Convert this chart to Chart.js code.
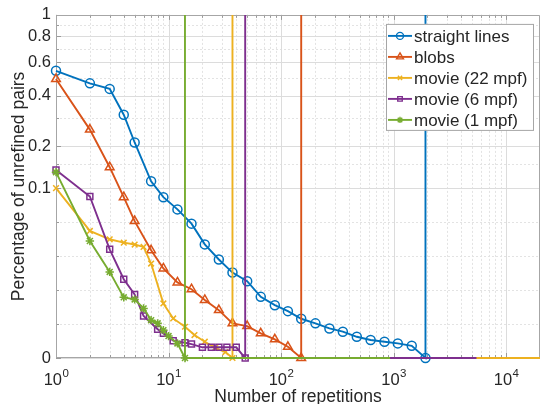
<!DOCTYPE html>
<html>
<head>
<meta charset="utf-8">
<script src="https://cdn.jsdelivr.net/npm/chart.js@4.4.1/dist/chart.umd.min.js"></script>
<style>
  html, body { margin: 0; padding: 0; background: #fff; }
</style>
</head>
<body>
<canvas id="grafico" width="540" height="404"></canvas>
<script>
/* Datos */

const seriesLabels = ["straight lines", "blobs", "movie (22 mpf)", "movie (6 mpf)", "movie (1 mpf)"];

// straight lines
const xStraight = [1, 2, 3, 4, 5, 7, 9, 12, 16, 21, 28, 37, 50, 66, 88, 115, 151, 202, 269, 354, 471, 625, 830, 1090, 1450, 1920];
const yStraight = [0.544, 0.468, 0.437, 0.313, 0.211, 0.113, 0.0947, 0.0875, 0.0791, 0.0669, 0.058, 0.0503, 0.0452, 0.036, 0.0311, 0.0276, 0.0231, 0.0204, 0.0174, 0.0155, 0.0125, 0.0106, 0.0096, 0.0086, 0.0072, 0];

// blobs
const xBlobs = [1, 2, 3, 4, 5, 7, 9, 12, 16, 21, 28, 37, 50, 66, 88, 115, 151];
const yBlobs = [0.493, 0.2545, 0.1433, 0.0947, 0.0806, 0.0634, 0.0527, 0.0445, 0.0405, 0.0342, 0.0282, 0.0204, 0.0188, 0.0145, 0.011, 0.0066, 0];

// movie (22 mpf)
const xMovie22 = [1, 2, 3, 4, 5, 6, 7, 9, 11, 14, 17, 21, 26, 32, 37];
const yMovie22 = [0.1, 0.0748, 0.0699, 0.0679, 0.0668, 0.0654, 0.0556, 0.0321, 0.0233, 0.0184, 0.0135, 0.0096, 0.006, 0.0035, 0];

// movie (6 mpf)
const xMovie6 = [1, 2, 3, 4, 5, 6, 8, 9, 11, 14, 16, 20, 24, 28, 33, 40, 48];
const yMovie6 = [0.137, 0.0951, 0.064, 0.0464, 0.0374, 0.0247, 0.0169, 0.0145, 0.0102, 0.009, 0.0082, 0.0063, 0.0063, 0.0063, 0.0063, 0.0063, 0];

// movie (1 mpf)
const xMovie1 = [1, 2, 3, 4, 5, 6, 7, 8, 9, 10, 12, 14];
const yMovie1 = [0.132, 0.0689, 0.0507, 0.0357, 0.0345, 0.0292, 0.0223, 0.0204, 0.0164, 0.0129, 0.0086, 0];

// hasta dónde sigue cada serie sobre y = 0
const tailEnds = [20000, 20000, 20000, 5450, 930];

const yTicks = [0, 0.1, 0.2, 0.4, 0.6, 0.8, 1];
const yMinorTicks = [0.02, 0.04, 0.06, 0.08, 0.15, 0.3, 0.5, 0.7, 0.9];
const xDecades = [1, 10, 100, 1000, 10000];

const colores = ["#0072BD", "#D95319", "#EDB120", "#7E2F8E", "#77AC30"];
const marcadores = ["circle", "triangle", "crossRot", "rect", "star"];
const radios = [4.5, 5, 4, 4.2, 4.2];

const FUENTE = "'Liberation Sans', Arial, Helvetica, sans-serif";
const GRIS_TEXTO = "#262626";

/* Escala vertical: lineal hasta 0.1, raíz cuarta por encima */
const Y_CORTE = 0.1;
const POS_CORTE = 0.495;

class EscalaMixta extends Chart.LinearScale {
  static id = "mixta";
  aDecimal(v) {
    if (v <= Y_CORTE) return (v / Y_CORTE) * POS_CORTE;
    const lo = Math.pow(Y_CORTE, 0.25);
    return POS_CORTE + (1 - POS_CORTE) * (Math.pow(v, 0.25) - lo) / (1 - lo);
  }
  deDecimal(d) {
    if (d <= POS_CORTE) return (d / POS_CORTE) * Y_CORTE;
    const lo = Math.pow(Y_CORTE, 0.25);
    const u = (d - POS_CORTE) / (1 - POS_CORTE);
    return Math.pow(lo + u * (1 - lo), 4);
  }
  getPixelForValue(v) {
    return this.getPixelForDecimal(this.aDecimal(v));
  }
  getValueForPixel(p) {
    return this.deDecimal(this.getDecimalForPixel(p));
  }
}
Chart.register(EscalaMixta);

// Armando los puntos: marcadores + línea vertical + cola en cero
function armarSerie(xs, ys, fin) {
  let puntos = xs.map((x, i) => ({ x: x, y: ys[i] }));
  let ultimo = xs[xs.length - 1];
  puntos.push({ x: ultimo, y: 1 });
  puntos.push({ x: ultimo, y: 0 });
  puntos.push({ x: fin, y: 0 });
  return puntos;
}

const todasX = [xStraight, xBlobs, xMovie22, xMovie6, xMovie1];
const todasY = [yStraight, yBlobs, yMovie22, yMovie6, yMovie1];

const datasets = seriesLabels.map((label, i) => {
  const nMarcas = todasX[i].length;
  return {
    label: label,
    data: armarSerie(todasX[i], todasY[i], tailEnds[i]),
    borderColor: colores[i],
    backgroundColor: colores[i],
    borderWidth: 1.9,
    pointStyle: marcadores[i],
    pointRadius: (c) => (c.dataIndex < nMarcas ? radios[i] : 0),
    pointBorderWidth: 1.5,
    pointBorderColor: colores[i],
    pointBackgroundColor: "rgba(0,0,0,0)",
    tension: 0,
    clip: false,
    order: seriesLabels.length - i
  };
});

function lineaH(ctx, x1, x2, y) {
  ctx.beginPath();
  ctx.moveTo(x1, y);
  ctx.lineTo(x2, y);
  ctx.stroke();
}
function lineaV(ctx, x, y1, y2) {
  ctx.beginPath();
  ctx.moveTo(x, y1);
  ctx.lineTo(x, y2);
  ctx.stroke();
}

function menoresX() {
  let lista = [];
  xDecades.forEach((d) => {
    for (let k = 2; k <= 9; k++) {
      if (k * d <= 20000) lista.push(k * d);
    }
  });
  return lista;
}

// Grilla y caja al estilo MATLAB
const ejesMatlab = {
  id: "ejesMatlab",
  beforeDatasetsDraw(chart) {
    const { ctx, chartArea: a, scales } = chart;
    const x = scales.x, y = scales.y;
    const px = (v) => Math.round(x.getPixelForValue(v)) + 0.5;
    const py = (v) => Math.round(y.getPixelForValue(v)) + 0.5;
    ctx.save();
    ctx.lineWidth = 1;

    // grilla menor punteada
    ctx.strokeStyle = "#e3e3e3";
    ctx.setLineDash([2, 2]);
    menoresX().forEach((v) => lineaV(ctx, px(v), a.top, a.bottom));
    yMinorTicks.forEach((v) => lineaH(ctx, a.left, a.right, py(v)));

    // grilla mayor
    ctx.setLineDash([]);
    ctx.strokeStyle = "#dcdcdc";
    xDecades.forEach((v) => lineaV(ctx, px(v), a.top, a.bottom));
    yTicks.forEach((v) => lineaH(ctx, a.left, a.right, py(v)));

    // marcas hacia adentro
    ctx.strokeStyle = "#9a9a9a";
    xDecades.forEach((v) => {
      lineaV(ctx, px(v), a.bottom, a.bottom - 5);
      lineaV(ctx, px(v), a.top, a.top + 5);
    });
    menoresX().forEach((v) => {
      lineaV(ctx, px(v), a.bottom, a.bottom - 3);
      lineaV(ctx, px(v), a.top, a.top + 3);
    });
    yTicks.forEach((v) => lineaH(ctx, a.left, a.left + 5, py(v)));
    yMinorTicks.forEach((v) => lineaH(ctx, a.left, a.left + 3, py(v)));

    // caja
    ctx.strokeStyle = "#a6a6a6";
    const l = Math.round(a.left) + 0.5, t = Math.round(a.top) + 0.5;
    const b = Math.round(a.bottom) - 0.5, r = Math.round(a.right) - 0.5;
    lineaH(ctx, l, r, t);
    lineaH(ctx, l, r, b);
    lineaV(ctx, l, t, b);
    lineaV(ctx, r, t, b);
    ctx.restore();
  },
  afterDatasetsDraw(chart) {
    const { ctx, chartArea: a, scales } = chart;
    const x = scales.x;
    ctx.save();

    // etiquetas 10^n del eje x
    ctx.fillStyle = GRIS_TEXTO;
    ctx.textBaseline = "alphabetic";
    xDecades.forEach((v, n) => {
      const base = "10", sup = String(n);
      ctx.font = "16.5px " + FUENTE;
      const w1 = ctx.measureText(base).width;
      ctx.font = "11.5px " + FUENTE;
      const w2 = ctx.measureText(sup).width;
      const x0 = x.getPixelForValue(v) - (w1 + w2) / 2;
      ctx.textAlign = "left";
      ctx.font = "16.5px " + FUENTE;
      ctx.fillText(base, x0, a.bottom + 27);
      ctx.font = "11.5px " + FUENTE;
      ctx.fillText(sup, x0 + w1 + 0.5, a.bottom + 19);
    });

    // leyenda
    const lx = a.right - 154, ly = a.top + 9, lw = 147, lh = 106;
    ctx.fillStyle = "#ffffff";
    ctx.fillRect(lx, ly, lw, lh);
    ctx.strokeStyle = "#a6a6a6";
    ctx.lineWidth = 1;
    ctx.strokeRect(lx + 0.5, ly + 0.5, lw, lh);
    chart.data.datasets.forEach((ds, i) => {
      const cy = ly + 12 + i * 21;
      ctx.strokeStyle = ds.borderColor;
      ctx.lineWidth = 1.9;
      lineaH(ctx, lx + 2, lx + 26, cy);
      ctx.lineWidth = 1.4;
      ctx.fillStyle = "rgba(0,0,0,0)";
      Chart.helpers.drawPoint(ctx, { pointStyle: ds.pointStyle, radius: radios[i] - 1, rotation: 0, borderWidth: 1.4 }, lx + 14, cy);
      ctx.fillStyle = GRIS_TEXTO;
      ctx.font = "17px " + FUENTE;
      ctx.textAlign = "left";
      ctx.textBaseline = "middle";
      ctx.fillText(ds.label, lx + 28, cy + 1);
    });
    ctx.restore();
  }
};

new Chart(document.getElementById("grafico"), {
  type: "line",
  data: { datasets: datasets },
  options: {
    responsive: false,
    animation: false,
    events: [],
    devicePixelRatio: 1,
    layout: { autoPadding: false, padding: { top: 13, right: 0, left: 0, bottom: 0 } },
    plugins: { legend: { display: false }, tooltip: { enabled: false } },
    scales: {
      x: {
        type: "logarithmic",
        min: 1,
        max: 20000,
        grid: { display: false, drawTicks: false },
        border: { display: false },
        ticks: { display: false },
        title: {
          display: true,
          text: "Number of repetitions",
          color: GRIS_TEXTO,
          font: { family: FUENTE, size: 17.5, lineHeight: 0.8 },
          padding: 0
        },
        afterFit: (s) => { s.height = 46; }
      },
      y: {
        type: "mixta",
        min: 0,
        max: 1,
        grid: { display: false, drawTicks: false },
        border: { display: false },
        afterBuildTicks: (s) => { s.ticks = yTicks.map((v) => ({ value: v })); },
        ticks: {
          autoSkip: false,
          padding: 5,
          color: GRIS_TEXTO,
          font: { family: FUENTE, size: 16.5 },
          callback: (v) => String(v)
        },
        title: {
          display: true,
          text: "Percentage of unrefined pairs",
          color: GRIS_TEXTO,
          font: { family: FUENTE, size: 17.5, lineHeight: 1 },
          padding: { top: 10, bottom: 0 }
        },
        afterFit: (s) => { s.width = 56; }
      }
    }
  },
  plugins: [ejesMatlab]
});
</script>
</body>
</html>
